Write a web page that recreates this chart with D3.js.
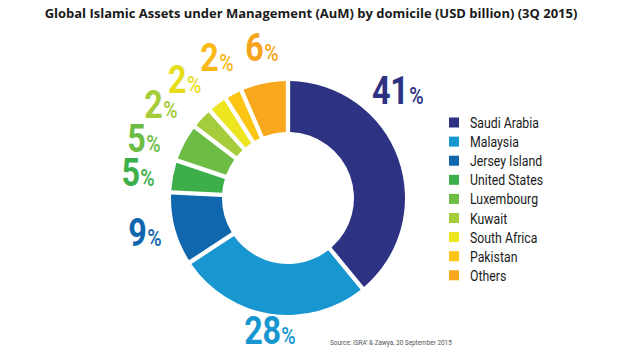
<!DOCTYPE html>
<html>
<head>
<meta charset="utf-8">
<script src="https://cdn.jsdelivr.net/npm/d3@7"></script>
<style>
  html, body { margin: 0; padding: 0; background: #fff; }
  svg { display: block; }
</style>
</head>
<body>
<svg id="chart" width="620" height="355"></svg>
<script>
// ---- data ----
const categories = ["Saudi Arabia", "Malaysia", "Jersey Island", "United States", "Luxembourg", "Kuwait", "South Africa", "Pakistan", "Others"];
// printed percentage labels
const labelPercents = [41, 28, 9, 5, 5, 2, 2, 2, 6];
// slice sizes as drawn in the picture (percent of ring)
const arcShares = [39, 26.7, 10, 4.4, 5.2, 3, 2.7, 2.4, 6.5];
const colors = ["#2d3282", "#1896d0", "#1067ad", "#3daf4a", "#6dbd45", "#a5cc3a", "#ede51e", "#fcc514", "#f7a81c"];
const labelColors = ["#2d3282", "#1896d0", "#1067ad", "#3daf4a", "#6dbd45", "#a5cc3a", "#e6de1a", "#f9b918", "#f5a51d"];
const titleText = "Global Islamic Assets under Management (AuM) by domicile (USD billion) (3Q 2015)";
const sourceText = "Source: ISRA\u2019 & Zawya, 30 September 2015";

// ---- layout (label placement, degrees clockwise from 12 o'clock, and radius) ----
const labelAngles = [45.5, 187.7, 256.6, 279.5, 292.6, 306.5, 318.9, 333.1, 350.2];
const labelRadii = [154, 134, 147, 152, 156, 158, 157, 157, 153];

const svg = d3.select("#chart");
const cx = 288, cy = 198, outerR = 117, innerR = 66;
const font = "Roboto, 'Liberation Sans', sans-serif";
const squeeze = 0.85;

// title
const title = svg.append("text")
  .attr("x", 311).attr("y", 18)
  .attr("text-anchor", "middle")
  .attr("font-family", "'Open Sans', 'DejaVu Sans', sans-serif")
  .attr("font-weight", 700)
  .attr("font-size", 13)
  .attr("fill", "#1a1a1a")
  .text(titleText);
const tl = title.node().getComputedTextLength();
title.attr("font-size", 13 * 533 / tl);

// donut
const pie = d3.pie().sort(null).value(d => d);
const arcs = pie(arcShares);
const arc = d3.arc().innerRadius(innerR).outerRadius(outerR).padAngle(0.032);
const g = svg.append("g").attr("transform", `translate(${cx},${cy})`);
g.selectAll("path").data(arcs).join("path")
  .attr("d", arc)
  .attr("fill", (d, i) => colors[i]);

// labels
const labG = g.selectAll("g.lbl").data(labelPercents).join("g")
  .attr("class", "lbl")
  .attr("transform", (d, i) => {
    const a = labelAngles[i] * Math.PI / 180;
    const x = labelRadii[i] * Math.sin(a);
    const y = -labelRadii[i] * Math.cos(a) + 13.5;
    return `translate(${x},${y}) scale(${squeeze},1)`;
  });
const lab = labG.append("text")
  .attr("text-anchor", "middle")
  .attr("font-family", font)
  .attr("font-weight", 700)
  .attr("fill", (d, i) => labelColors[i]);
lab.append("tspan").attr("font-size", 38).attr("letter-spacing", -0.5).text(d => d);
lab.append("tspan").attr("font-size", 23).attr("font-weight", 500).attr("dx", 1).text("%");

// legend
const leg = svg.append("g").attr("transform", "translate(449,117.5)");
const rows = leg.selectAll("g").data(categories).join("g")
  .attr("transform", (d, i) => `translate(0,${i * 19.1})`);
rows.append("rect").attr("width", 10).attr("height", 10)
  .attr("fill", (d, i) => colors[i]);
rows.append("text")
  .attr("transform", `translate(21,10.5) scale(0.82,1)`)
  .attr("font-family", font)
  .attr("font-size", 15)
  .attr("fill", "#1a1a1a")
  .text(d => d);

// source
const src = svg.append("text")
  .attr("font-family", font)
  .attr("font-size", 8)
  .attr("fill", "#555")
  .text(sourceText);
const sl = src.node().getComputedTextLength();
src.attr("transform", `translate(330,345) scale(${122 / sl},1)`);
</script>
</body>
</html>
